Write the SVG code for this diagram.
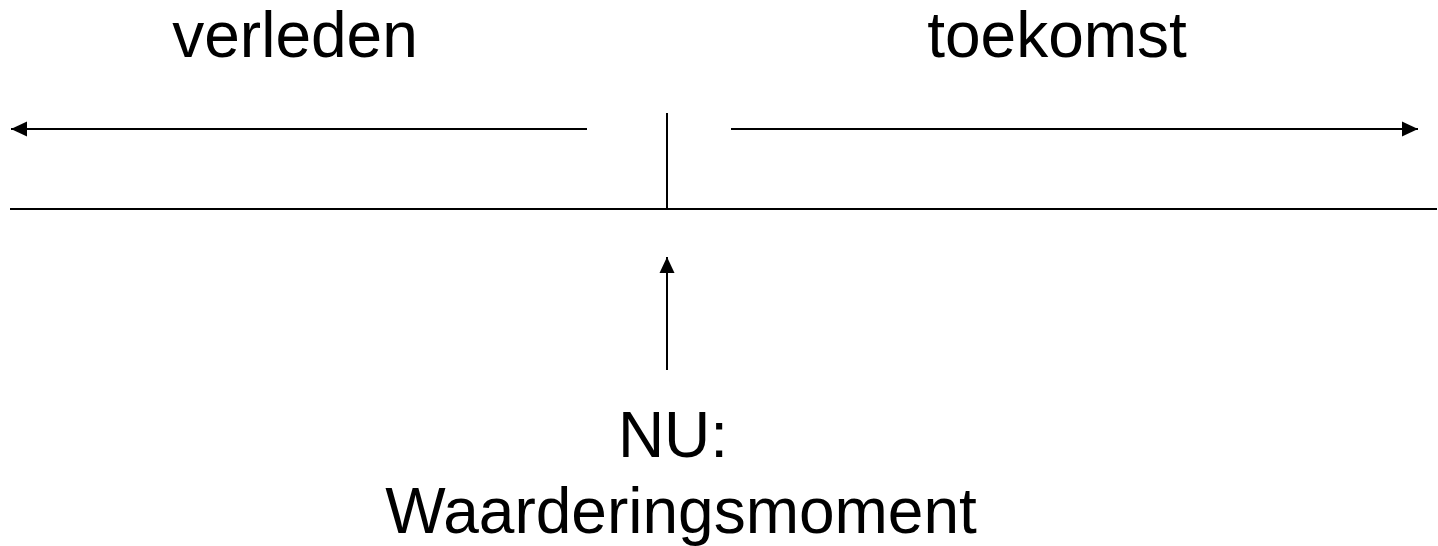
<svg xmlns="http://www.w3.org/2000/svg" width="1438" height="546" viewBox="0 0 1438 546">
<style>
.ln{stroke:#000;stroke-width:2;fill:none}
.t{font-family:"Liberation Sans",Arial,sans-serif;font-size:64px;fill:#000;text-anchor:middle}
</style>
<defs>
<marker id="ah" markerUnits="userSpaceOnUse" markerWidth="16" markerHeight="16" viewBox="0 0 16 16" refX="16" refY="8" orient="auto">
<path d="M0,0.5 L16,8 L0,15.5 Z" fill="#000"/>
</marker>
</defs>
<rect width="1438" height="546" fill="#fff"/>
<g id="connectors">
<line class="ln" x1="587" y1="129" x2="11" y2="129" marker-end="url(#ah)"/>
<line class="ln" x1="731" y1="129" x2="1418" y2="129" marker-end="url(#ah)"/>
<line class="ln" x1="10" y1="209" x2="1437" y2="209"/>
<line class="ln" x1="667" y1="113" x2="667" y2="209"/>
<line class="ln" x1="667" y1="370" x2="667" y2="257" marker-end="url(#ah)"/>
</g>
<g id="verleden"><text class="t" x="295" y="57">verleden</text></g>
<g id="toekomst"><text class="t" x="1057" y="57">toekomst</text></g>
<g id="nu">
<text class="t" x="673" y="457">NU:</text>
<text class="t" x="681" y="533">Waarderingsmoment</text>
</g>
</svg>
